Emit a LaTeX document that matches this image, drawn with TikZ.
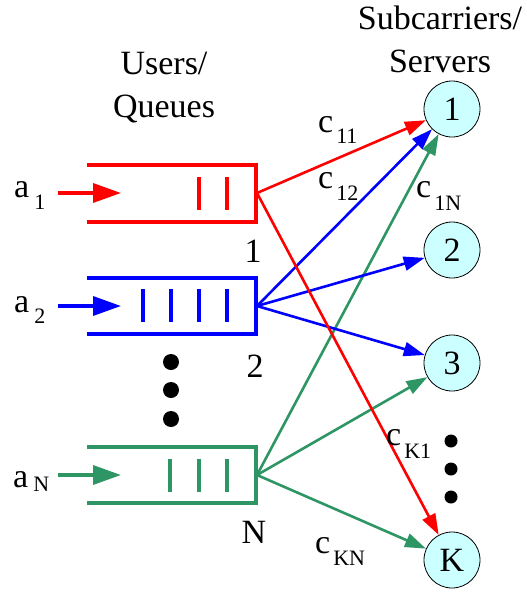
\documentclass[tikz,border=0pt]{standalone}
\usepackage{fontspec}
\setmainfont{Liberation Serif}
\newfontfamily\timesfont{Liberation Serif}
\usetikzlibrary{arrows.meta}

\definecolor{qred}{RGB}{255,0,0}
\definecolor{qblue}{RGB}{0,0,255}
\definecolor{qgreen}{RGB}{46,150,100}
\definecolor{srvfill}{RGB}{204,255,255}

\newcommand\bigtxt{\timesfont\fontsize{34}{43}\selectfont}
\newcommand\subtxt{\timesfont\fontsize{22}{24}\selectfont}
% symbol with a lowered index
\newcommand\idx[4]{#1\hspace{#3}\raisebox{#4}{\subtxt #2}}

\begin{document}
\begin{tikzpicture}[x=1pt,y=-1pt,
  queue/.style={line width=4pt,line join=miter},
  bar/.style={line width=4pt},
  feed/.style={line width=3.5pt,-{Triangle[length=28pt,width=19pt]}},
  link/.style={line width=2.6pt,-{Triangle[length=21pt,width=14pt]}},
  server/.style={circle,draw=black,line width=0.8pt,fill=srvfill,
    minimum size=56pt,inner sep=0pt,font=\bigtxt},
  lbl/.style={inner sep=0pt,anchor=base west,font=\bigtxt},
  num/.style={inner sep=0pt,anchor=base,font=\bigtxt},
  title/.style={inner sep=0pt,anchor=base,align=center,font=\bigtxt},
  dot/.style={fill=black}]
\useasboundingbox (0,0) rectangle (527,592);

% headings (anchored at the baseline of their last line)
\node[title] (tusers) at (164,117) {Users/\\Queues};
\node[title] (tsrv) at (440,72) {Subcarriers/\\Servers};

% servers
\node[server] (s1) at (452,109) {1};
\node[server] (s2) at (452,250) {2};
\node[server] (s3) at (452,363) {3};
\node[server] (sK) at (452,560) {K};

% queue 1 (red)
\draw[queue,qred] (87,165) -- (256,165) -- (256,222) -- (87,222);
\draw[bar,qred] (199,177) -- (199,210) (227,177) -- (227,210);
% queue 2 (blue)
\draw[queue,qblue] (87,278) -- (256,278) -- (256,334) -- (87,334);
\draw[bar,qblue] (143,289) -- (143,322) (171,289) -- (171,322)
  (199,289) -- (199,322) (227,289) -- (227,322);
% queue N (green)
\draw[queue,qgreen] (87,447) -- (256,447) -- (256,503) -- (87,503);
\draw[bar,qgreen] (170,459) -- (170,492) (199,459) -- (199,492)
  (227,459) -- (227,492);

% arrival arrows
\coordinate (in1) at (58,193);   \coordinate (tip1) at (121,193);
\coordinate (in2) at (58,306);   \coordinate (tip2) at (121,306);
\coordinate (inN) at (58,475);   \coordinate (tipN) at (121,475);
\draw[feed,qred] (in1) -- (tip1);
\draw[feed,qblue] (in2) -- (tip2);
\draw[feed,qgreen] (inN) -- (tipN);

% queue outputs
\coordinate (q1) at (257,193);
\coordinate (q2) at (257,306);
\coordinate (qN) at (257,475);

% links from queues to servers
\draw[link,qgreen] (qN) -- (s1);
\draw[link,qgreen] (qN) -- (s3);
\draw[link,qgreen] (qN) -- (sK);
\draw[link,qblue] (q2) -- (s1);
\draw[link,qblue] (q2) -- (s2);
\draw[link,qblue] (q2) -- (s3);
\draw[link,qred] (q1) -- (s1);
\draw[link,qred] (q1) -- (sK);

% arrival labels
\node[lbl] (la1) at (14,197) {\idx{a}{1}{5pt}{-12pt}};
\node[lbl] (la2) at (14,312) {\idx{a}{2}{5pt}{-11pt}};
\node[lbl] (laN) at (13,487) {\idx{a}{N}{5pt}{-4pt}};

% queue numbers
\node[num] (n1) at (253,262) {1};
\node[num] (n2) at (255,377) {2};
\node[num] (nN) at (254,543) {N};

% link labels
\node[lbl] (c11) at (318,132) {\idx{c}{11}{3pt}{-11pt}};
\node[lbl] (c12) at (318,188) {\idx{c}{12}{3pt}{-12pt}};
\node[lbl] (c1N) at (416,197) {\idx{c}{1N}{3pt}{-13pt}};
\node[lbl] (cK1) at (386,445) {\idx{c}{K1}{3pt}{-13pt}};
\node[lbl] (cKN) at (315,553) {\idx{c}{KN}{3pt}{-12pt}};

% ellipses
\fill[dot] (171,362) circle (8);
\fill[dot] (171,390) circle (8);
\fill[dot] (171,419) circle (8);
\fill[dot] (451,441) circle (6.5);
\fill[dot] (451,469) circle (6.5);
\fill[dot] (451,497) circle (6.5);
\end{tikzpicture}
\end{document}
